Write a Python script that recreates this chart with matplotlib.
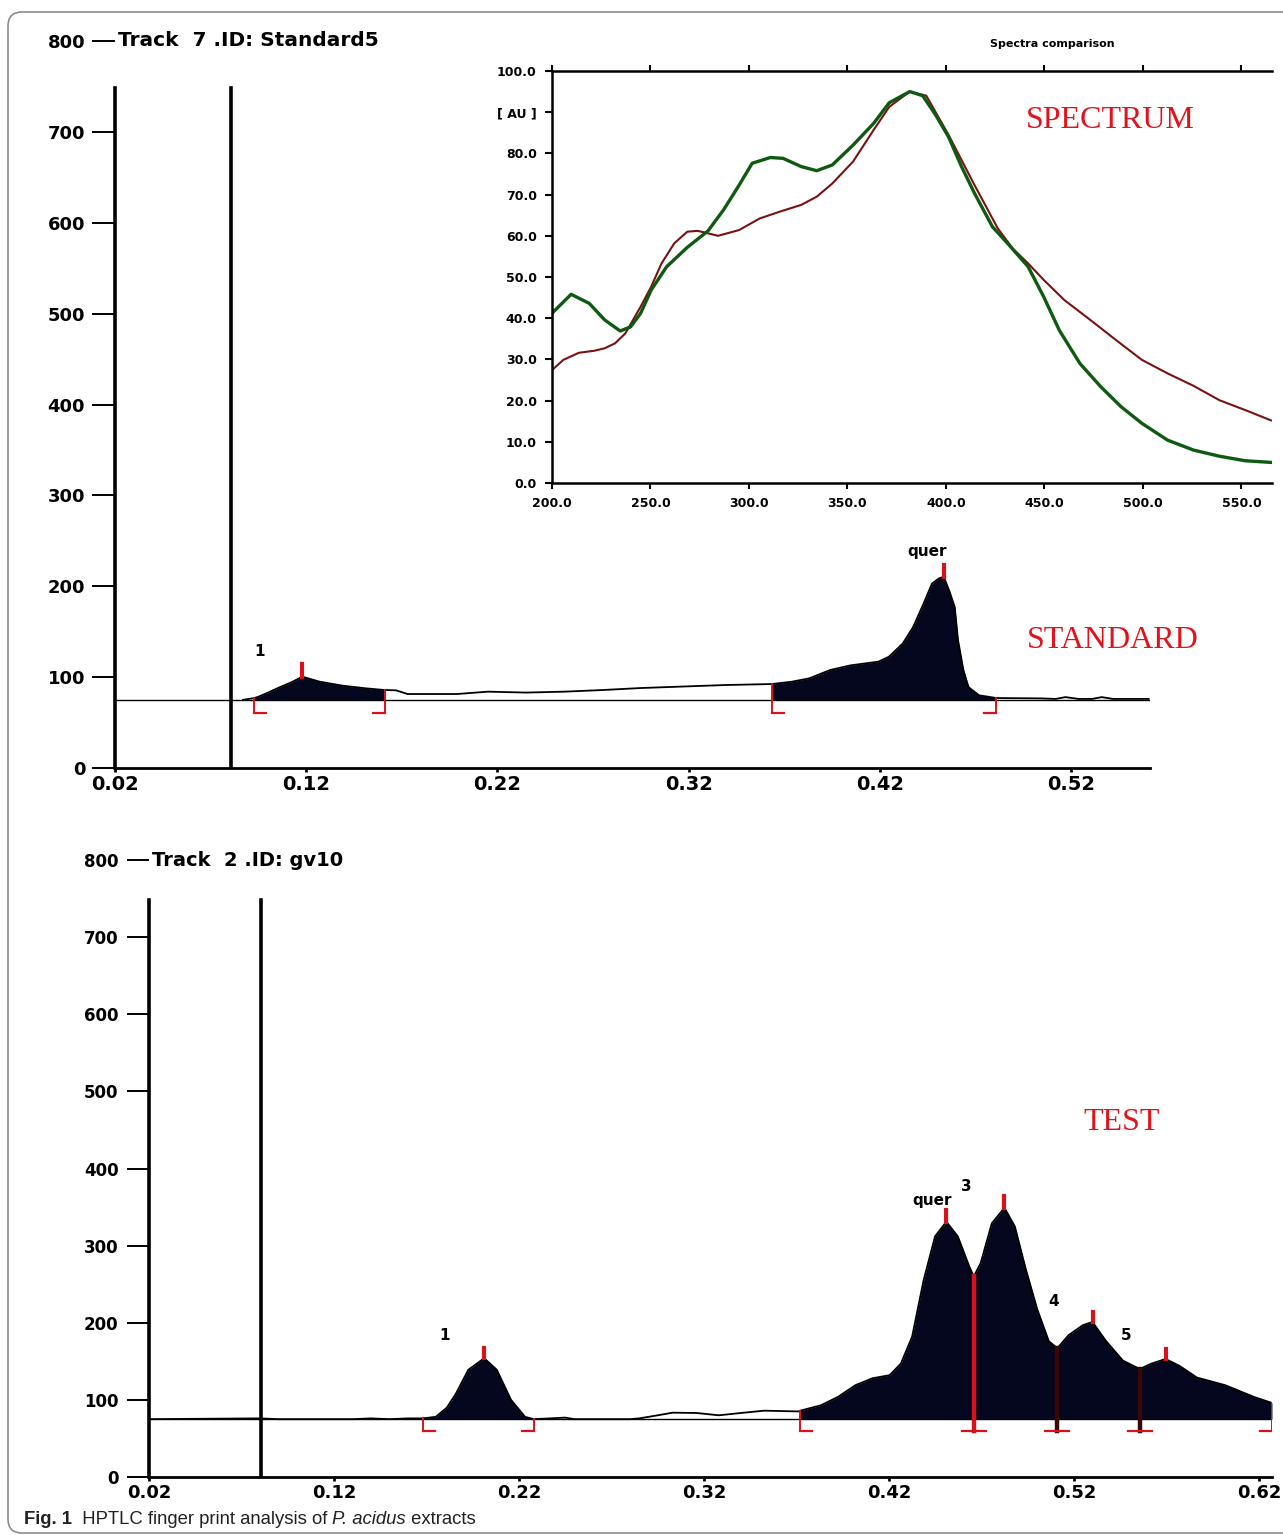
import matplotlib
matplotlib.use('Agg')
import matplotlib.pyplot as plt
import numpy as np
from matplotlib.patches import FancyBboxPatch

# --- standard track (Track 7, Standard5) ---
std_rf = [0.087, 0.0929, 0.095, 0.099, 0.1049, 0.1129, 0.118, 0.127, 0.139, 0.151, 0.161,
          0.167, 0.173, 0.1989, 0.215, 0.235, 0.255, 0.275, 0.295, 0.315, 0.339, 0.3636,
          0.3741, 0.383, 0.394, 0.4048, 0.4193, 0.4248, 0.432, 0.4374, 0.4429, 0.4473,
          0.451, 0.4534, 0.4565, 0.4592, 0.4609, 0.4637, 0.4664, 0.4719, 0.4809, 0.5043,
          0.512, 0.5171, 0.524, 0.531, 0.5361, 0.542, 0.5606]
std_au = [75, 77, 78.4, 82, 87.7, 95, 100.5, 95, 90.6, 87.7, 85.8,
          85.5, 81.4, 81.4, 84, 83, 84, 85.8, 88, 89.5, 91.3, 92.4,
          95, 98.6, 107.8, 113, 117, 122.5, 137, 155, 181, 203,
          208.7, 210.5, 194, 177, 141, 108, 89, 80, 77, 76.6,
          76, 78, 76, 76, 78, 76, 76]
std_peaks = [(0.118, 100.5, 114), (0.4534, 210.5, 223)]
std_starts = [0.0929, 0.3636]
std_ends = [0.161, 0.4809]
std_labels = [("1", 0.0958, 128), ("quer", 0.445, 238)]

# --- test track (Track 2, gv10) ---
test_rf = [0.02, 0.08, 0.09, 0.13, 0.14, 0.15, 0.16, 0.168, 0.175, 0.181, 0.186, 0.1926,
           0.2012, 0.208, 0.2157, 0.2233, 0.228, 0.245, 0.25, 0.28, 0.285, 0.295, 0.303,
           0.316, 0.328, 0.34, 0.3525, 0.371, 0.372, 0.3832, 0.3925, 0.4018, 0.411, 0.4203,
           0.4264, 0.4325, 0.4387, 0.4449, 0.451, 0.4572, 0.4634, 0.4658, 0.4695, 0.4756,
           0.4824, 0.488, 0.494, 0.5002, 0.5064, 0.511, 0.5171, 0.5249, 0.53, 0.5371,
           0.5464, 0.5556, 0.5618, 0.5695, 0.5771, 0.5864, 0.6018, 0.6171, 0.627]
test_au = [75, 76, 75, 75, 76, 75, 76, 76, 78, 90, 108.5, 139,
           154, 139, 100, 78, 75, 77, 75, 75, 76, 80, 83.4,
           83, 80, 83, 86, 85, 86, 93, 104, 119, 128, 132,
           147, 182, 255, 312, 331, 312, 273, 260, 277, 329,
           349, 325, 269, 217, 176, 167, 184, 197, 201, 177,
           151, 140, 147, 153, 144, 129, 119, 104, 96]
test_peaks = [(0.2012, 154, 167), (0.451, 331, 346), (0.4824, 349, 364),
              (0.53, 201, 214), (0.5695, 153, 166)]
test_starts = [0.168, 0.372]
test_ends = [0.228, 0.627]
test_splits = [0.4658, 0.511, 0.5556]
test_labels = [("1", 0.1795, 183), ("quer", 0.4432, 359), ("3", 0.4616, 377),
               ("4", 0.509, 227), ("5", 0.548, 183)]

baseline = 75
start_line = 0.0805

# --- spectra comparison ---
green_nm = [200, 209.7, 218.9, 226.7, 234.6, 239.9, 245, 250.3, 258.2, 268.7, 279.2, 287.1,
            295, 301.6, 310.8, 317.3, 326.5, 334.4, 342.3, 352.8, 363.3, 371.2, 381.6,
            388.2, 394.8, 401.3, 407.9, 414.5, 423.6, 431.2, 441.7, 449.6, 457.5, 468,
            478.5, 488.9, 499.4, 512.5, 525.6, 538.8, 551.9, 565]
green_au = [41.2, 45.8, 43.6, 39.6, 36.9, 37.9, 41.2, 46.8, 52.5, 57.2, 61.2, 66.3,
            72.3, 77.6, 79.0, 78.8, 76.8, 75.8, 77.2, 82, 87.3, 92.3, 95.0,
            94, 89.3, 84, 76.8, 70.3, 62.2, 58.2, 52.5, 45.2, 37.1, 29,
            23.4, 18.5, 14.5, 10.4, 8, 6.5, 5.4, 5.0]
red_nm = [200, 205.8, 213.6, 221.5, 226.7, 232, 237.2, 245, 250.3, 255.6, 262.1, 268.7,
          274, 284.3, 295, 305.4, 315.9, 326.5, 334.4, 342.3, 352.8, 363.3, 371.2,
          381.6, 390, 401.3, 414.5, 426.3, 433.9, 441.7, 449.6, 460.1, 473.2, 486.3,
          499.4, 512.5, 525.6, 538.8, 551.9, 565]
red_au = [27.4, 29.9, 31.6, 32.1, 32.7, 33.9, 36.3, 42.8, 47.6, 53.3, 58.2, 61,
          61.2, 60.0, 61.4, 64.2, 65.9, 67.5, 69.5, 72.7, 78, 85.7, 91.3,
          95, 94, 84.5, 72.3, 61.8, 56.9, 53.3, 49.3, 44.4, 39.6, 34.7,
          29.9, 26.6, 23.6, 20.1, 17.7, 15.2]

W, H = 1283, 1535
fig = plt.figure(figsize=(W / 100, H / 100), dpi=100)
BOLD = dict(family='DejaVu Sans', fontweight='bold')
FILL = '#05071f'
RED = '#d8121a'


def px_axes(l, t, r, b):
    return fig.add_axes([l / W, 1 - b / H, (r - l) / W, (b - t) / H])


def setup_chrom(ax, xmax, xt, ylen, ypad, fs):
    ax.set_xlim(0.02, xmax)
    ax.set_ylim(0, 800)
    ax.set_xticks(xt)
    ax.set_xticklabels([f"{v:.2f}" for v in xt], fontsize=fs + 1, **BOLD)
    ax.set_yticks(range(0, 801, 100))
    ax.set_yticklabels([str(v) for v in range(0, 801, 100)], fontsize=fs, **BOLD)
    for s in ('top', 'right'):
        ax.spines[s].set_visible(False)
    ax.spines['left'].set_bounds(0, 748)
    ax.spines['left'].set_linewidth(2.6)
    ax.spines['bottom'].set_linewidth(2)
    ax.tick_params(axis='y', length=ylen, width=1.4, pad=ypad)
    ax.tick_params(axis='x', length=3, width=2, pad=2)
    ax.patch.set_alpha(0)
    ax.plot([start_line, start_line], [0, 748], color='black', lw=2.6)
    ax.plot([0.02, xmax], [baseline, baseline], color='black', lw=1, zorder=2)


def bracket(ax, x, top, depth, width, side, color, lw=1.4):
    ax.plot([x, x], [baseline - depth, top], color=color, lw=lw, zorder=4)
    if side in ('L', 'T'):
        ax.plot([x, x + width], [baseline - depth] * 2, color=RED, lw=1.6, zorder=4)
    if side in ('R', 'T'):
        ax.plot([x - width, x], [baseline - depth] * 2, color=RED, lw=1.6, zorder=4)


def draw_track(ax, rf, au, starts, ends, peaks, labels, depth, width, lfs):
    rf = np.array(rf)
    au = np.array(au)
    for a, b in zip(starts, ends):
        m = (rf >= a) & (rf <= b)
        ax.fill_between(rf[m], baseline, au[m], color=FILL, lw=0, zorder=3)
        bracket(ax, a, np.interp(a, rf, au), depth, width, 'L', RED)
        bracket(ax, b, np.interp(b, rf, au), depth, width, 'R', RED)
    ax.plot(rf, au, color='black', lw=1.3, zorder=3)
    for x, y0, y1 in peaks:
        ax.plot([x, x], [y0, y1], color=RED, lw=3, zorder=5)
    for txt, x, y in labels:
        ax.text(x, y, txt, ha='center', va='center', fontsize=lfs, **BOLD)


# top: standard
ax1 = px_axes(115, 41, 1150, 768)
x1max = 0.02 + 1035 / 1912
setup_chrom(ax1, x1max, [0.02, 0.12, 0.22, 0.32, 0.42, 0.52], 16.5, 5, 13)
draw_track(ax1, std_rf, std_au, std_starts, std_ends, std_peaks, std_labels, 15, 0.0063, 11)
ax1.text(0.0215, 800, "Track  7 .ID: Standard5", ha='left', va='center', fontsize=14.5, **BOLD)

# bottom: test
ax2 = px_axes(149, 860, 1272, 1477)
x2max = 0.02 + 1123 / 1850
setup_chrom(ax2, x2max, [0.02, 0.12, 0.22, 0.32, 0.42, 0.52, 0.62], 16, 6, 12)
draw_track(ax2, test_rf, test_au, test_starts, test_ends, test_peaks, test_labels, 15.5, 0.0065, 11)
rf2 = np.array(test_rf)
au2 = np.array(test_au)
for i, x in enumerate(test_splits):
    col = RED if i == 0 else '#3a0606'
    bracket(ax2, x, np.interp(x, rf2, au2), 15.5, 0.0065, 'T', col, lw=3.2)
ax2.text(0.0215, 800, "Track  2 .ID: gv10", ha='left', va='center', fontsize=14, **BOLD)

# inset: spectra comparison
ax3 = px_axes(552, 71, 1272, 483)
ax3.set_xlim(200, 565.5)
ax3.set_ylim(0, 100)
ax3.plot(red_nm, red_au, color='#7a1212', lw=1.5)
ax3.plot(green_nm, green_au, color='#0d5a10', lw=2.4)
xt3 = [200, 250, 300, 350, 400, 450, 500, 550]
ax3.set_xticks(xt3)
ax3.set_xticklabels([f"{v:.1f}" for v in xt3], fontsize=9, **BOLD)
yt3 = list(range(0, 101, 10))
ax3.set_yticks(yt3)
ax3.set_yticklabels(['[ AU ]' if v == 90 else f"{v:.1f}" for v in yt3], fontsize=9, **BOLD)
ax3.spines['right'].set_visible(False)
for s in ('left', 'bottom', 'top'):
    ax3.spines[s].set_linewidth(1.8)
ax3.tick_params(axis='x', top=True, direction='out', length=4, width=1.5, pad=6)
ax3.tick_params(axis='y', direction='out', length=5, width=1.5, pad=6)
ax3.patch.set_alpha(0)
fig.text(1052 / W, 1 - 44 / H, "Spectra comparison", ha='center', va='center', fontsize=8, **BOLD)

# red annotations
for txt, x, y in [("SPECTRUM", 1110, 120), ("STANDARD", 1113, 640), ("TEST", 1122, 1123)]:
    fig.text(x / W, 1 - y / H, txt, ha='center', va='center', fontsize=23,
             family='Liberation Serif', color='#e3111b')

# frame
frame = FancyBboxPatch((8, H - 1533), 1400, 1521, boxstyle='round,pad=0,rounding_size=14',
                       transform=None, fc='none', ec='#8c8c8c', lw=1.2)
fig.add_artist(frame)

# caption
renderer = fig.canvas.get_renderer()
cx = 24
for txt, kw in [("Fig. 1", dict(fontweight='bold')),
                ("  HPTLC finger print analysis of ", {}),
                ("P. acidus", dict(style='italic')),
                (" extracts", {})]:
    t = fig.text(cx / W, 1 - 1524 / H, txt, ha='left', va='baseline', fontsize=13.3,
                 family='Liberation Sans', color='#222222', **kw)
    cx = t.get_window_extent(renderer=renderer).x1

fig.savefig('out.png', dpi=100)
